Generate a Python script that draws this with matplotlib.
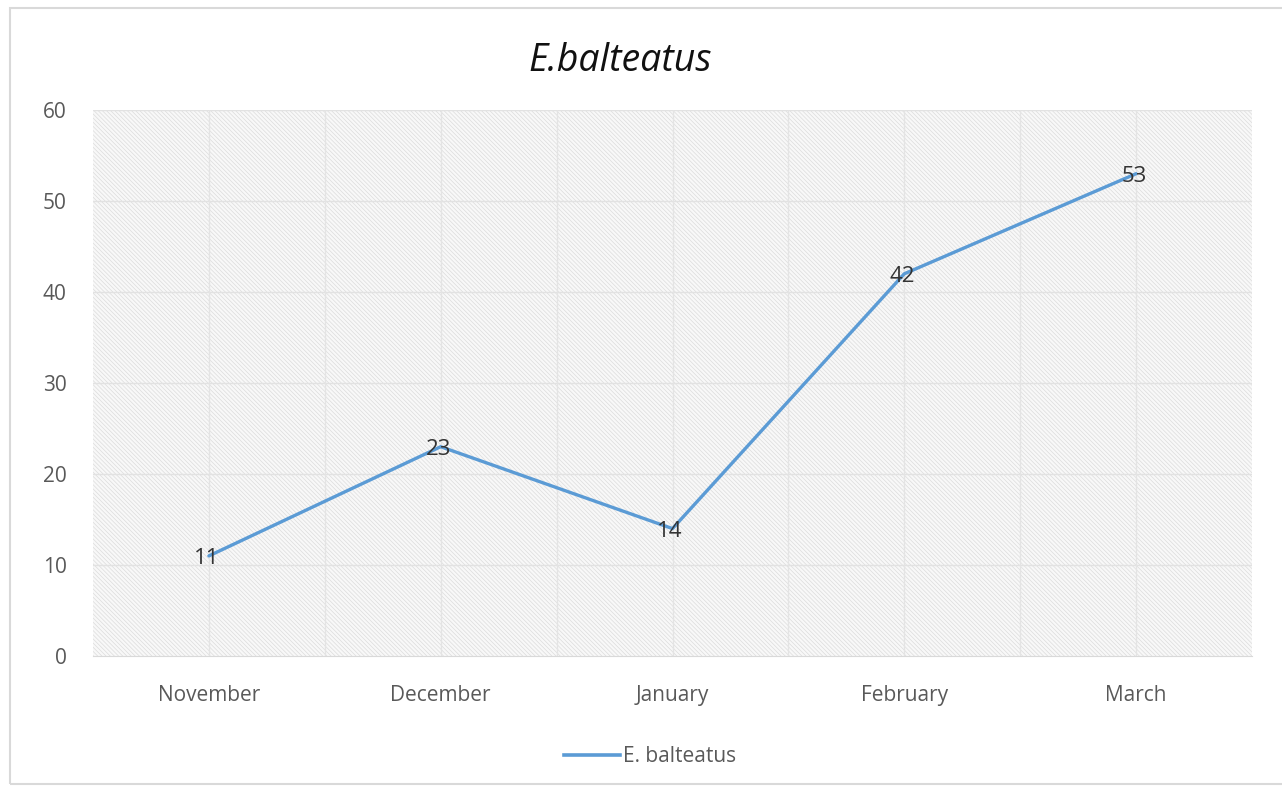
import matplotlib
matplotlib.use("Agg")
import matplotlib.pyplot as plt
from matplotlib.patches import Rectangle
from matplotlib.lines import Line2D

months = ["November", "December", "January", "February", "March"]
counts = [11, 23, 14, 42, 53]
y_ticks = [0, 10, 20, 30, 40, 50, 60]
series_name = "E. balteatus"
title = "E.balteatus"

W, H = 1282, 790
fig = plt.figure(figsize=(W / 100, H / 100), dpi=100)
fig.patch.set_facecolor("white")

# outer chart frame
fig.patches.append(Rectangle((10 / W, 6 / H), 1.2, (H - 14) / H, transform=fig.transFigure,
                             fill=False, edgecolor="#d9d9d9", linewidth=1.5))

x0, x1 = 93, 1252
y_top, y_bot = 110, 656
ax = fig.add_axes([x0 / W, 1 - y_bot / H, (x1 - x0) / W, (y_bot - y_top) / H])
ax.set_facecolor("#f8f8f8")

plt.rcParams["hatch.color"] = "#dcdcdc"
plt.rcParams["hatch.linewidth"] = 0.5
ax.add_patch(Rectangle((0, 0), 1, 1, transform=ax.transAxes, facecolor="#f8f8f8",
                       edgecolor="#dcdcdc", hatch="\\" * 8, linewidth=0, zorder=0))

n = len(months)
ax.set_xlim(-0.5, n - 0.5)
ax.set_ylim(y_ticks[0], y_ticks[-1])

# gridlines: horizontal at major ticks, vertical at category centres and boundaries
for yv in y_ticks[1:]:
    ax.axhline(yv, color="#e2e2e2", linewidth=1.0, zorder=1)
for i in range(n):
    ax.axvline(i, color="#e4e4e4", linewidth=1.0, zorder=1)
for i in range(n - 1):
    ax.axvline(i + 0.5, color="#e4e4e4", linewidth=1.0, zorder=1)

ax.plot(range(n), counts, color="#5b9bd5", linewidth=2.4, zorder=3,
        solid_capstyle="round", solid_joinstyle="round")

for i, v in enumerate(counts):
    ax.text(i - 0.01, v - 0.3, str(v), ha="center", va="center", fontsize=16,
            color="#333333", family="Open Sans", zorder=4)

for s in ["top", "right", "left"]:
    ax.spines[s].set_visible(False)
ax.spines["bottom"].set_color("#d9d9d9")

ax.set_xticks(range(n))
ax.set_xticklabels(months, fontsize=15, color="#595959", family="Open Sans")
ax.set_yticks(y_ticks)
ax.set_yticklabels([str(t) for t in y_ticks], fontsize=15, color="#595959", family="Open Sans")
ax.tick_params(axis="both", length=0)
ax.tick_params(axis="x", pad=21)
ax.tick_params(axis="y", pad=19)

fig.text(620 / W, 1 - 61 / H, title, ha="center", va="center", fontsize=27,
         style="italic", family="Open Sans", color="#111111")

handle = Line2D([], [], color="#5b9bd5", linewidth=2.6)
fig.legend([handle], [series_name], loc="center", bbox_to_anchor=(650 / W, 1 - 757 / H),
           frameon=False, prop={"family": "Open Sans", "size": 15},
           labelcolor="#595959", handlelength=2.7, handletextpad=0.15)

fig.savefig("out.png", dpi=100, facecolor="white")
